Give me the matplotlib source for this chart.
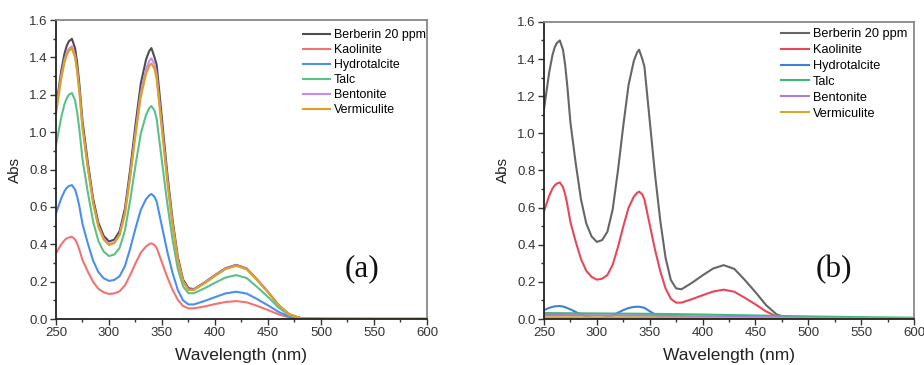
import numpy as np
import matplotlib
matplotlib.use("Agg")
import matplotlib.pyplot as plt

plt.rcParams['font.family'] = ['Liberation Sans', 'DejaVu Sans']

# wavelength grid (nm)
wl = [250, 255, 258, 260, 262, 265, 268, 270, 272, 275,
      280, 285, 290, 295, 300, 305, 310, 315, 320, 325,
      330, 335, 338, 340, 343, 345, 350, 355, 360, 365,
      370, 375, 380, 390, 400, 410, 420, 430, 440, 450,
      460, 470, 480, 490, 500, 550, 600]

# (a) absorbance
berberin = [1.13, 1.33, 1.42, 1.46, 1.485, 1.50, 1.45, 1.37, 1.26, 1.06,
            0.84, 0.645, 0.515, 0.445, 0.415, 0.425, 0.47, 0.59, 0.80, 1.04,
            1.26, 1.39, 1.435, 1.45, 1.40, 1.36, 1.07, 0.78, 0.53, 0.33,
            0.21, 0.165, 0.16, 0.195, 0.235, 0.272, 0.29, 0.27, 0.21, 0.145,
            0.075, 0.025, 0.006, 0.002, 0.001, 0.0, 0.0]
kaol_a = [0.352, 0.400, 0.421, 0.431, 0.436, 0.44, 0.426, 0.403, 0.372, 0.316,
          0.254, 0.199, 0.162, 0.143, 0.134, 0.137, 0.148, 0.180, 0.235, 0.298,
          0.355, 0.389, 0.401, 0.405, 0.396, 0.381, 0.302, 0.224, 0.156, 0.102,
          0.069, 0.057, 0.057, 0.067, 0.080, 0.091, 0.096, 0.089, 0.070, 0.048,
          0.025, 0.008, 0.002, 0.001, 0.0, 0.0, 0.0]
hydro_a = [0.565, 0.647, 0.684, 0.701, 0.711, 0.717, 0.693, 0.655, 0.604, 0.509,
           0.405, 0.313, 0.251, 0.218, 0.204, 0.209, 0.229, 0.283, 0.377, 0.485,
           0.584, 0.642, 0.662, 0.669, 0.654, 0.628, 0.494, 0.361, 0.246, 0.154,
           0.099, 0.078, 0.078, 0.096, 0.117, 0.137, 0.146, 0.136, 0.106, 0.073,
           0.038, 0.013, 0.003, 0.001, 0.0, 0.0, 0.0]
talc_a = [0.93, 1.081, 1.150, 1.180, 1.199, 1.21, 1.170, 1.105, 1.017, 0.856,
          0.679, 0.522, 0.417, 0.361, 0.337, 0.345, 0.380, 0.473, 0.636, 0.822,
          0.993, 1.093, 1.129, 1.14, 1.115, 1.070, 0.843, 0.618, 0.423, 0.266,
          0.173, 0.138, 0.138, 0.164, 0.194, 0.222, 0.235, 0.219, 0.170, 0.118,
          0.061, 0.020, 0.005, 0.002, 0.001, 0.0, 0.0]
bent_a = [1.12, 1.304, 1.387, 1.423, 1.446, 1.46, 1.411, 1.333, 1.226, 1.030,
          0.816, 0.625, 0.498, 0.430, 0.40, 0.410, 0.453, 0.568, 0.770, 1.001,
          1.213, 1.337, 1.381, 1.395, 1.364, 1.308, 1.029, 0.750, 0.509, 0.316,
          0.201, 0.158, 0.158, 0.193, 0.233, 0.270, 0.288, 0.268, 0.209, 0.144,
          0.075, 0.025, 0.006, 0.003, 0.003, 0.003, 0.003]
verm_a = [1.10, 1.288, 1.373, 1.410, 1.434, 1.448, 1.400, 1.322, 1.215, 1.021,
          0.808, 0.619, 0.493, 0.425, 0.396, 0.406, 0.448, 0.560, 0.758, 0.983,
          1.190, 1.312, 1.354, 1.368, 1.338, 1.283, 1.009, 0.736, 0.499, 0.310,
          0.197, 0.155, 0.155, 0.190, 0.230, 0.267, 0.285, 0.265, 0.206, 0.143,
          0.074, 0.025, 0.006, 0.002, 0.001, 0.0, 0.0]

# (b) absorbance
kaol_b = [0.58, 0.664, 0.702, 0.718, 0.729, 0.735, 0.711, 0.672, 0.619, 0.523,
          0.417, 0.323, 0.260, 0.227, 0.212, 0.217, 0.237, 0.292, 0.388, 0.498,
          0.599, 0.659, 0.679, 0.686, 0.671, 0.644, 0.509, 0.374, 0.258, 0.165,
          0.109, 0.088, 0.088, 0.107, 0.128, 0.148, 0.158, 0.147, 0.114, 0.079,
          0.041, 0.014, 0.003, 0.001, 0.0, 0.0, 0.0]
hydro_b = [0.048, 0.060, 0.065, 0.068, 0.069, 0.070, 0.067, 0.064, 0.059, 0.052,
           0.038, 0.025, 0.014, 0.007, 0.005, 0.006, 0.011, 0.020, 0.034, 0.048,
           0.059, 0.065, 0.066, 0.066, 0.063, 0.060, 0.042, 0.025, 0.012, 0.004,
           0.0, -0.002, -0.003, -0.003, -0.003, -0.003, -0.003, -0.003, -0.003, -0.003,
           -0.003, -0.003, -0.003, -0.003, -0.003, -0.003, -0.003]
wl_flat = [250, 300, 350, 400, 450, 500, 550, 600]
talc_b = [0.032, 0.030, 0.028, 0.024, 0.019, 0.014, 0.010, 0.007]
bent_b = [0.022, 0.020, 0.018, 0.014, 0.010, 0.007, 0.005, 0.004]
verm_b = [0.010, 0.009, 0.008, 0.006, 0.004, 0.003, 0.002, 0.002]

names = ["Berberin 20 ppm", "Kaolinite", "Hydrotalcite", "Talc", "Bentonite", "Vermiculite"]
colors_a = ["#4d4d4d", "#f47272", "#4a8ef0", "#5cc08a", "#c58cf0", "#e0a020"]
colors_b = ["#666666", "#e8475a", "#3f7fd6", "#3cb878", "#a77fd8", "#d9a82a"]

fig = plt.figure(figsize=(9.24, 3.65), dpi=100)
ax_a = fig.add_axes([0.0606, 0.126, 0.4015, 0.819])
ax_b = fig.add_axes([0.5887, 0.126, 0.4005, 0.814])

series_a = [(wl, berberin), (wl, kaol_a), (wl, hydro_a), (wl, talc_a), (wl, bent_a), (wl, verm_a)]
series_b = [(wl, berberin), (wl, kaol_b), (wl, hydro_b), (wl_flat, talc_b), (wl_flat, bent_b), (wl_flat, verm_b)]

panels = [(ax_a, series_a, colors_a, "(a)", 8.9, 0.25, 0.665, 0.97, 0.825),
          (ax_b, series_b, colors_b, "(b)", 9.2, 0.3, 0.64, 0.978, 0.784)]

for ax, series, cols, tag, fs_leg, lsp, lx, ly, tx in panels:
    for (x, y), name, c in zip(series, names, cols):
        ax.plot(x, y, color=c, lw=1.5, label=name, solid_joinstyle='round')
    ax.set_xlim(250, 600)
    ax.set_ylim(0, 1.6)
    ax.set_xticks(np.arange(250, 601, 50))
    ax.set_xticks(np.arange(275, 600, 50), minor=True)
    ax.set_yticks(np.arange(0, 1.61, 0.2))
    ax.set_yticks(np.arange(0.1, 1.6, 0.2), minor=True)
    ax.yaxis.set_major_formatter(matplotlib.ticker.FormatStrFormatter('%.1f'))
    ax.tick_params(which='major', direction='out', length=4, width=1, colors='#333333',
                   labelsize=9.5, pad=2)
    ax.tick_params(which='minor', direction='out', length=2.5, width=1, colors='#333333')
    for s in ['left', 'bottom']:
        ax.spines[s].set_color('#222222')
        ax.spines[s].set_linewidth(1.3)
    for s in ['top', 'right']:
        ax.spines[s].set_color('#888888')
        ax.spines[s].set_linewidth(1.3)
    ax.set_xlabel("Wavelength (nm)", fontsize=12.5, color='#222222', labelpad=6)
    ax.set_ylabel("Abs", fontsize=11, color='#222222', labelpad=5)
    ax.legend(loc='upper left', bbox_to_anchor=(lx, ly), frameon=False, fontsize=fs_leg,
              handlelength=2.2, handletextpad=0.3, labelspacing=lsp, borderpad=0, borderaxespad=0)
    ax.text(tx, 0.167, tag, transform=ax.transAxes, ha='center', va='center',
            fontsize=22.5, family='Liberation Serif', color='#111111')

fig.savefig("out.png", dpi=100)
